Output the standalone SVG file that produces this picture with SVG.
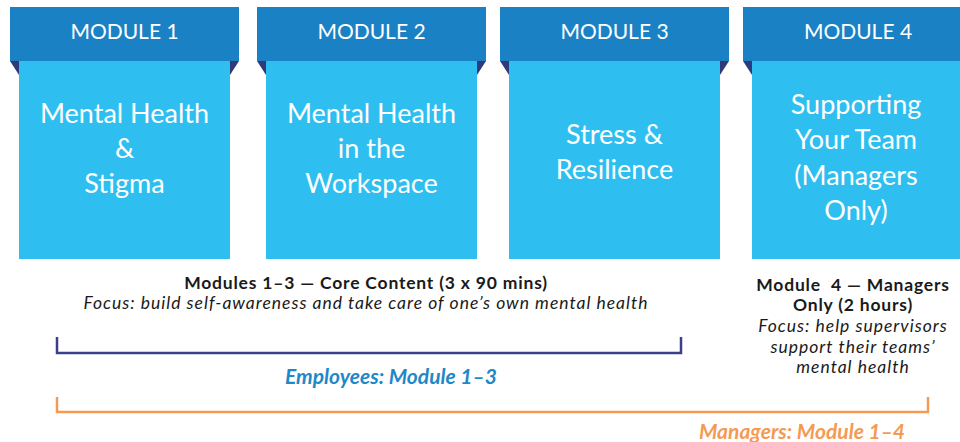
<svg xmlns="http://www.w3.org/2000/svg" width="960" height="442" viewBox="0 0 960 442">
<defs>
<style>
.hdr{fill:#1A82C4}
.body{fill:#2EBFF0}
.tri{fill:#2E3A7A}
.ht{font-family:Lato,"Liberation Sans",sans-serif;font-size:21px;fill:#fff;text-anchor:middle}
.bt{font-family:Lato,"Liberation Sans",sans-serif;font-size:27px;fill:#fff;text-anchor:middle}
.b{font-family:Lato,"Liberation Sans",sans-serif;font-size:17.5px;font-weight:bold;fill:#1a1a1a;text-anchor:middle;letter-spacing:0.8px}
.i{font-family:Lato,"Liberation Sans",sans-serif;font-size:17.5px;font-style:italic;fill:#1a1a1a;text-anchor:middle;letter-spacing:1px}
.lab{font-family:Lato,"Liberation Sans",sans-serif;font-size:21px;font-style:italic;font-weight:bold;text-anchor:middle}
</style>
</defs>
<rect width="960" height="442" fill="#fff"/>
<g id="module1">
<rect class="hdr" x="10" y="7" width="229" height="54"/>
<polygon class="tri" points="10,61 19,61 19,75"/>
<polygon class="tri" points="239,61 230,61 230,75"/>
<rect class="body" x="19" y="61" width="211" height="198"/>
<text class="ht" x="124.5" y="39">MODULE 1</text>
<text class="bt" x="124.5" y="123">Mental Health</text>
<text class="bt" x="124.5" y="158">&amp;</text>
<text class="bt" x="124.5" y="193">Stigma</text>
</g>
<g id="module2">
<rect class="hdr" x="257" y="7" width="229" height="54"/>
<polygon class="tri" points="257,61 266,61 266,75"/>
<polygon class="tri" points="486,61 477,61 477,75"/>
<rect class="body" x="266" y="61" width="211" height="198"/>
<text class="ht" x="371.5" y="39">MODULE 2</text>
<text class="bt" x="371.5" y="123">Mental Health</text>
<text class="bt" x="371.5" y="158">in the</text>
<text class="bt" x="371.5" y="193">Workspace</text>
</g>
<g id="module3">
<rect class="hdr" x="500" y="7" width="229" height="54"/>
<polygon class="tri" points="500,61 509,61 509,75"/>
<polygon class="tri" points="729,61 720,61 720,75"/>
<rect class="body" x="509" y="61" width="211" height="198"/>
<text class="ht" x="614.5" y="39">MODULE 3</text>
<text class="bt" x="614.5" y="144">Stress &amp;</text>
<text class="bt" x="614.5" y="179">Resilience</text>
</g>
<g id="module4">
<rect class="hdr" x="743" y="7" width="229" height="54"/>
<polygon class="tri" points="743,61 752,61 752,75"/>
<rect class="body" x="752" y="61" width="211" height="198"/>
<text class="ht" x="858" y="39">MODULE 4</text>
<text class="bt" x="856" y="114">Supporting</text>
<text class="bt" x="856" y="149">Your Team</text>
<text class="bt" x="856" y="185">(Managers</text>
<text class="bt" x="856" y="220">Only)</text>
</g>
<g id="core-text">
<text class="b" x="366" y="289">Modules 1–3 — Core Content (3 x 90 mins)</text>
<text class="i" x="366" y="309">Focus: build self-awareness and take care of one’s own mental health</text>
</g>
<g id="managers-text">
<text class="b" x="853" y="291">Module&#160; 4 — Managers</text>
<text class="b" x="853" y="311">Only (2 hours)</text>
<text class="i" x="853" y="332">Focus: help supervisors</text>
<text class="i" x="853" y="352.5">support their teams’</text>
<text class="i" x="853" y="373">mental health</text>
</g>
<g id="connectors" fill="none" stroke-width="2.5">
<polyline points="57,337 57,353 681,353 681,337" stroke="#3A3F8A"/>
<polyline points="57,397 57,412 928,412 928,397" stroke="#F59A52"/>
</g>
<g id="labels">
<text class="lab" x="391" y="384" fill="#1E88C8">Employees: Module 1–3</text>
<text class="lab" x="802" y="439" fill="#F59A52">Managers: Module 1–4</text>
</g>
</svg>
